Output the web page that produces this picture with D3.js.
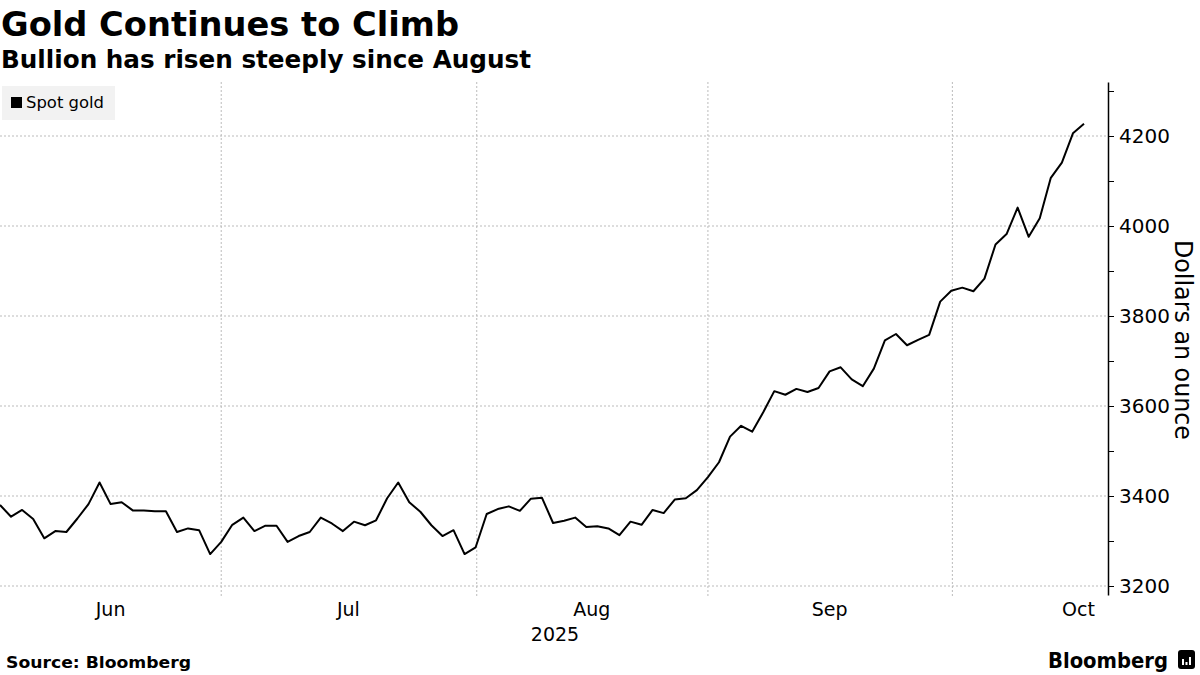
<!DOCTYPE html>
<html>
<head>
<meta charset="utf-8">
<script src="https://cdn.jsdelivr.net/npm/d3@7"></script>
<style>
  body { margin: 0; background: #fff; }
  svg { display: block; font-family: "DejaVu Sans", sans-serif; }
</style>
</head>
<body>
<svg id="drawing_region"></svg>
<script>
// spot gold, one value per weekday from early June to mid October 2025
const goldPrice = [
    3380, 3354, 3369, 3349, 3306, 3322, 3320, 3350, 3382, 3430,
    3382, 3386, 3368, 3368, 3366, 3366, 3320, 3328, 3324, 3271,
    3298, 3336, 3352, 3322, 3334, 3334, 3298, 3311, 3320, 3352,
    3339, 3322, 3343, 3335, 3346, 3395, 3430, 3386, 3365, 3335,
    3311, 3324, 3271, 3286, 3360, 3371, 3377, 3367, 3394, 3396,
    3340, 3345, 3352, 3331, 3333, 3328, 3313, 3343, 3336, 3369,
    3362, 3392, 3395, 3413, 3442, 3475, 3532, 3556, 3543, 3586,
    3633, 3625, 3638, 3631, 3640, 3677, 3686, 3659, 3644, 3683,
    3746, 3760, 3735, 3747, 3758, 3832, 3856, 3863, 3855, 3883,
    3959, 3982, 4041, 3976, 4017, 4107, 4141, 4206, 4227
];

// month labels and where they sit (in trading-day index units)
const monthLabels = ["Jun", "Jul", "Aug", "Sep", "Oct"];
const monthLabelPos = [10, 31.5, 53.5, 75, 97.5];
// month boundaries (vertical grid lines)
const monthBounds = [20, 43.1, 64, 86.1];

const yTicks = [3200, 3400, 3600, 3800, 4000, 4200];
const yMinorTicks = [3200, 3300, 3400, 3500, 3600, 3700, 3800, 3900, 4000, 4100, 4200, 4300];

var config = {
    parent: '#drawing_region',
    width: 1200,
    height: 675,
    plotLeft: 0,
    plotRight: 1108,
    plotTop: 82,
    plotBottom: 595,
};

class LineChart {

    constructor( config, data ) {
        this.config = config;
        this.data = data;
        this.init();
    }

    init() {
        let self = this;
        let c = self.config;

        self.svg = d3.select(c.parent)
            .attr('width', c.width)
            .attr('height', c.height);

        self.xscale = d3.scaleLinear()
            .domain([0, self.data.length - 1])
            .range([c.plotLeft, 1084]);

        self.yscale = d3.scaleLinear()
            .domain([3180, 4320])
            .range([c.plotBottom, c.plotTop]);
    }

    update() {
        let self = this;
        self.render();
    }

    render() {
        let self = this;
        let c = self.config;
        let svg = self.svg;

        // titles
        svg.append('text')
            .attr('x', 1).attr('y', 36)
            .attr('font-size', 34).attr('font-weight', 'bold')
            .attr('textLength', 458).attr('lengthAdjust', 'spacingAndGlyphs')
            .text('Gold Continues to Climb');

        svg.append('text')
            .attr('x', 1).attr('y', 68)
            .attr('font-size', 24).attr('font-weight', 'bold')
            .attr('textLength', 530).attr('lengthAdjust', 'spacingAndGlyphs')
            .text('Bullion has risen steeply since August');

        // horizontal grid
        svg.append('g')
            .selectAll('line')
            .data(yTicks)
            .enter()
            .append('line')
            .attr('x1', c.plotLeft).attr('x2', c.plotRight)
            .attr('y1', d => self.yscale(d)).attr('y2', d => self.yscale(d))
            .attr('stroke', '#bbb')
            .attr('stroke-dasharray', '2,2');

        // vertical grid at month boundaries
        svg.append('g')
            .selectAll('line')
            .data(monthBounds)
            .enter()
            .append('line')
            .attr('x1', d => self.xscale(d)).attr('x2', d => self.xscale(d))
            .attr('y1', c.plotTop).attr('y2', c.plotBottom + 3)
            .attr('stroke', '#bbb')
            .attr('stroke-dasharray', '2,2');

        // legend
        let legend = svg.append('g');
        legend.append('rect')
            .attr('x', 2).attr('y', 86)
            .attr('width', 113).attr('height', 34)
            .attr('fill', '#f2f2f2');
        legend.append('rect')
            .attr('x', 11).attr('y', 97)
            .attr('width', 11).attr('height', 11)
            .attr('fill', '#000');
        legend.append('text')
            .attr('x', 26).attr('y', 108)
            .attr('font-size', 16)
            .attr('textLength', 78).attr('lengthAdjust', 'spacingAndGlyphs')
            .text('Spot gold');

        // line
        let line = d3.line()
            .x((d, i) => self.xscale(i))
            .y(d => self.yscale(d));

        svg.append('path')
            .datum(self.data)
            .attr('d', line)
            .attr('fill', 'none')
            .attr('stroke', '#000')
            .attr('stroke-width', 2)
            .attr('stroke-linejoin', 'round');

        // right axis
        let yaxis = d3.axisRight(self.yscale)
            .tickValues(yMinorTicks)
            .tickSize(6)
            .tickSizeOuter(0)
            .tickPadding(5)
            .tickFormat(d => yTicks.includes(d) ? d : '');

        let yg = svg.append('g')
            .attr('transform', `translate(${c.plotRight}, 0)`)
            .call(yaxis);
        yg.select('.domain').attr('stroke', '#000').attr('stroke-width', 1.5);
        yg.selectAll('.tick line').attr('stroke', '#000');
        yg.selectAll('.tick text')
            .attr('font-size', 20)
            .attr('font-family', '"DejaVu Sans", sans-serif')
            .attr('fill', '#000');

        svg.append('text')
            .attr('transform', `translate(1175, 340) rotate(90)`)
            .attr('text-anchor', 'middle')
            .attr('font-size', 24)
            .attr('textLength', 200).attr('lengthAdjust', 'spacingAndGlyphs')
            .text('Dollars an ounce');

        // month labels
        svg.append('g')
            .selectAll('text')
            .data(monthLabels)
            .enter()
            .append('text')
            .attr('x', (d, i) => self.xscale(monthLabelPos[i]))
            .attr('y', 616)
            .attr('text-anchor', 'middle')
            .attr('font-size', 19)
            .text(d => d);

        svg.append('text')
            .attr('x', 555).attr('y', 641)
            .attr('text-anchor', 'middle')
            .attr('font-size', 19)
            .text('2025');

        // footer
        svg.append('text')
            .attr('x', 6).attr('y', 668)
            .attr('font-size', 16).attr('font-weight', 'bold')
            .attr('textLength', 185).attr('lengthAdjust', 'spacingAndGlyphs')
            .text('Source: Bloomberg');

        svg.append('text')
            .attr('x', 1168).attr('y', 668)
            .attr('text-anchor', 'end')
            .attr('font-size', 22).attr('font-weight', 'bold')
            .attr('textLength', 120).attr('lengthAdjust', 'spacingAndGlyphs')
            .text('Bloomberg');

        let logo = svg.append('g').attr('transform', 'translate(1178, 650)');
        logo.append('rect')
            .attr('width', 17).attr('height', 19).attr('rx', 3)
            .attr('fill', '#000');
        logo.selectAll('.bar')
            .data([6, 3, 8])
            .enter()
            .append('rect')
            .attr('x', (d, i) => 4 + i * 3.5)
            .attr('y', d => 15 - d)
            .attr('width', 2)
            .attr('height', d => d)
            .attr('fill', '#fff');
    }
}

const chart = new LineChart( config, goldPrice );
chart.update();
</script>
</body>
</html>
